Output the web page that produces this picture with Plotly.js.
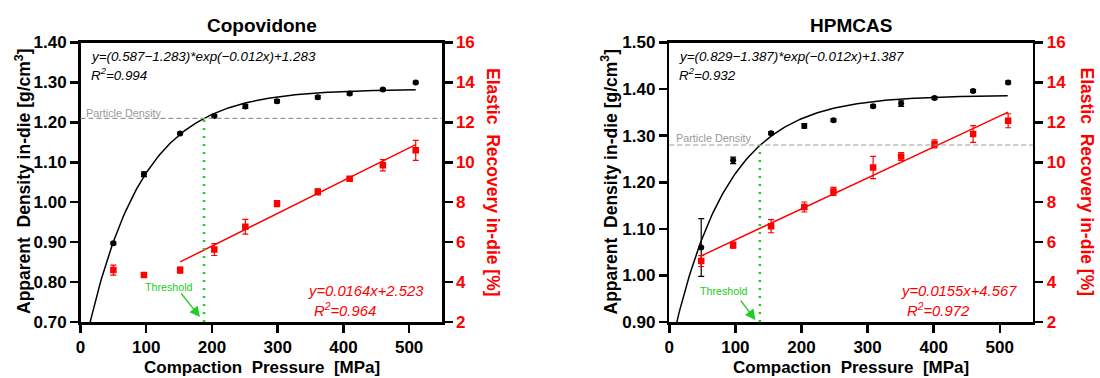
<!DOCTYPE html>
<html>
<head>
<meta charset="utf-8">
<script src="https://cdn.plot.ly/plotly-3.0.1.min.js"></script>
<style>html,body{margin:0;padding:0;background:#fff;}#chart{width:1100px;height:378px;}</style>
</head>
<body>
<div id="chart"></div>
<script>
// ---------- data ----------
const panelTitles = ["Copovidone", "HPMCAS"];
const xTickVals = [0, 100, 200, 300, 400, 500];

// Copovidone
const copPressure = [50, 96.5, 151.6, 203.6, 250.8, 299, 361, 409.5, 460, 510];
const copDensity = [0.897, 1.070, 1.172, 1.216, 1.240, 1.253, 1.263, 1.272, 1.282, 1.300];
const copDensityErr = [0.003, 0.006, 0.003, 0.003, 0.005, 0.004, 0.004, 0.003, 0.003, 0.003];
const copRecovery = [4.6, 4.35, 4.6, 5.63, 6.77, 7.93, 8.52, 9.18, 9.85, 10.6];
const copRecoveryErr = [0.25, 0.1, 0.15, 0.3, 0.37, 0.15, 0.15, 0.1, 0.28, 0.5];
const copExpFit = [0.587, 1.283, 0.012];   // y=(a-b)*exp(-k x)+b
const copLinFit = [0.0164, 2.523];         // y=m x + c
const copLinStartIdx = 2;
const copParticleDensity = 1.21;
const copThreshold = 188;
const copDensityRange = [0.70, 1.40];

// HPMCAS
const hpPressure = [48.3, 96.6, 154, 204.3, 248.4, 308.4, 350.8, 401.3, 459.7, 512.7];
const hpDensity = [1.060, 1.247, 1.305, 1.321, 1.333, 1.363, 1.369, 1.381, 1.396, 1.414];
const hpDensityErr = [0.062, 0.007, 0.003, 0.005, 0.003, 0.003, 0.006, 0.003, 0.003, 0.003];
const hpRecovery = [5.05, 5.85, 6.8, 7.76, 8.54, 9.74, 10.29, 10.92, 11.42, 12.08];
const hpRecoveryErr = [0.27, 0.15, 0.33, 0.25, 0.2, 0.56, 0.2, 0.2, 0.42, 0.35];
const hpExpFit = [0.829, 1.387, 0.012];
const hpLinFit = [0.0155, 4.567];
const hpLinStartIdx = 0;
const hpParticleDensity = 1.28;
const hpThreshold = 137;
const hpDensityRange = [0.90, 1.50];

const recoveryRange = [2, 16];
const pressureRange = [0, 550];

// ---------- helpers ----------
const W = 1100, H = 378;
const px = x => x / W;
const py = y => 1 - y / H;
const FONT = "Liberation Sans, Arial, sans-serif";
const RED = "#ff0000";
const GREEN = "#22cc22";

function expCurve(p, xs) {
  const xEnd = xs[xs.length - 1];
  const xx = [], yy = [];
  for (let x = 0; x <= xEnd + 0.01; x += 2) { xx.push(x); yy.push((p[0] - p[1]) * Math.exp(-p[2] * x) + p[1]); }
  return {x: xx, y: yy};
}
function linCurve(p, xs, startIdx) {
  const xx = [xs[startIdx], xs[xs.length - 1]];
  return {x: xx, y: xx.map(x => p[0] * x + p[1])};
}

function panelTraces(xa, yaL, yaR, P, D, DE, R, RE, ef, lf, li) {
  const c = expCurve(ef, P), l = linCurve(lf, P, li);
  return [
    {x: c.x, y: c.y, xaxis: xa, yaxis: yaL, mode: "lines", line: {color: "#000", width: 1.5}, hoverinfo: "skip"},
    {x: P, y: D, xaxis: xa, yaxis: yaL, mode: "markers", marker: {color: "#000", size: 6, symbol: "circle"},
      error_y: {type: "data", array: DE, visible: true, color: "#000", thickness: 1.2, width: 3}},
    {x: l.x, y: l.y, xaxis: xa, yaxis: yaR, mode: "lines", line: {color: RED, width: 1.5}, hoverinfo: "skip"},
    {x: P, y: R, xaxis: xa, yaxis: yaR, mode: "markers", marker: {color: RED, size: 6.5, symbol: "square"},
      error_y: {type: "data", array: RE, visible: true, color: RED, thickness: 1.2, width: 3}}
  ];
}

const data = [].concat(
  panelTraces("x", "y", "y2", copPressure, copDensity, copDensityErr, copRecovery, copRecoveryErr, copExpFit, copLinFit, copLinStartIdx),
  panelTraces("x2", "y3", "y4", hpPressure, hpDensity, hpDensityErr, hpRecovery, hpRecoveryErr, hpExpFit, hpLinFit, hpLinStartIdx)
);

const tickFont = {family: FONT, size: 17, color: "#000", weight: "bold"};
const axCommon = {showgrid: false, zeroline: false, showline: true, linecolor: "#000", linewidth: 2.5,
  ticks: "outside", ticklen: 8, tickwidth: 2.5, tickcolor: "#000"};
function xAx(domain, anchor) {
  return Object.assign({domain: domain, anchor: anchor, range: pressureRange, tickvals: xTickVals, mirror: true, tickfont: tickFont}, axCommon);
}
function yAxL(range, anchor) {
  return Object.assign({domain: [py(322), py(42.5)], anchor: anchor, range: range, dtick: 0.1, tickformat: ".2f", tickfont: tickFont}, axCommon);
}
function yAxR(overlay, anchor) {
  return Object.assign({overlaying: overlay, anchor: anchor, side: "right", range: recoveryRange, dtick: 2,
    tickfont: {family: FONT, size: 17, color: RED, weight: "bold"}}, axCommon);
}

function txt(text, x, y, opts) {
  return Object.assign({text: text, x: px(x), y: py(y), xref: "paper", yref: "paper", showarrow: false,
    xanchor: "center", yanchor: "middle", font: {family: FONT, size: 12, color: "#000"}}, opts || {});
}

function panelAnnotations(o) {
  const a = [];
  a.push(txt(o.title, o.cx, 25, {font: {family: FONT, size: 19, color: "#000", weight: "bold"}}));
  a.push(txt(o.eq1, o.eqx, 56, {xanchor: "left", font: {family: FONT, size: 13.4, color: "#000", style: "italic"}}));
  a.push(txt(o.r1, o.eqx, 75, {xanchor: "left", font: {family: FONT, size: 13.4, color: "#000", style: "italic"}}));
  a.push(txt(o.eq2, o.eq2x, 291, {xanchor: "right", font: {family: FONT, size: 14.8, color: RED, style: "italic"}}));
  a.push(txt(o.r2, o.r2x, 310, {xanchor: "left", font: {family: FONT, size: 14.8, color: RED, style: "italic"}}));
  a.push(txt("Particle Density", o.pdx, o.pdy, {xanchor: "left", font: {family: FONT, size: 10.8, color: "#999"}}));
  a.push(txt("Threshold", o.thx, o.thy, {font: {family: FONT, size: 10.7, color: GREEN}}));
  a.push({text: "", x: px(o.ahx), y: py(o.ahy), xref: "paper", yref: "paper", showarrow: true,
    ax: o.atx - o.ahx, ay: o.aty - o.ahy, axref: "pixel", ayref: "pixel",
    arrowhead: 2, arrowsize: 1.6, arrowwidth: 1.3, arrowcolor: GREEN});
  a.push(txt("Apparent\u00a0 Density in-die [g/cm<sup>3</sup>]", o.ylx, 182, {textangle: -90, font: {family: FONT, size: 17.5, color: "#000", weight: "bold"}}));
  a.push(txt("Elastic\u00a0 Recovery in-die [%]", o.yrx, 182, {textangle: 90, font: {family: FONT, size: 17.5, color: RED, weight: "bold"}}));
  a.push(txt("Compaction\u00a0 Pressure\u00a0 [MPa]", o.cx, 367, {font: {family: FONT, size: 17, color: "#000", weight: "bold"}}));
  return a;
}

const annotations = [].concat(
  panelAnnotations({title: panelTitles[0], cx: 261.5, eqx: 88.5,
    eq1: "y=(0.587\u22121.283)*exp(\u22120.012x)+1.283", r1: "R<sup>2</sup>=0.994",
    eq2: "y=0.0164x+2.523", eq2x: 426, r2: "R<sup>2</sup>=0.964", r2x: 311.5,
    pdx: 84, pdy: 113, thx: 168.5, thy: 287, atx: 180, aty: 292, ahx: 200, ahy: 317, ylx: 23, yrx: 493}),
  panelAnnotations({title: panelTitles[1], cx: 851, eqx: 677,
    eq1: "y=(0.829\u22121.387)*exp(\u22120.012x)+1.387", r1: "R<sup>2</sup>=0.932",
    eq2: "y=0.0155x+4.567", eq2x: 1018.5, r2: "R<sup>2</sup>=0.972", r2x: 904.5,
    pdx: 673.5, pdy: 138, thx: 724, thy: 291, atx: 739.5, aty: 299, ahx: 755.5, ahy: 320, ylx: 609.5, yrx: 1086.5})
);

function shapesFor(xa, ya, pd, th, yr) {
  return [
    {type: "line", xref: xa + " domain", yref: ya, x0: 0, x1: 1, y0: pd, y1: pd, line: {color: "#999", width: 1.2, dash: "5px,3px"}},
    {type: "line", xref: xa, yref: ya, x0: th, x1: th, y0: yr[0], y1: pd, line: {color: GREEN, width: 2.5, dash: "2px,6px"}}
  ];
}

const layout = {
  width: W, height: H, margin: {l: 0, r: 0, t: 0, b: 0}, paper_bgcolor: "#fff", plot_bgcolor: "#fff",
  showlegend: false, font: {family: FONT},
  xaxis: xAx([px(80.5), px(442)], "y"),
  yaxis: yAxL(copDensityRange, "x"),
  yaxis2: yAxR("y", "x"),
  xaxis2: xAx([px(669.3), px(1032.8)], "y3"),
  yaxis3: yAxL(hpDensityRange, "x2"),
  yaxis4: yAxR("y3", "x2"),
  shapes: [].concat(shapesFor("x", "y", copParticleDensity, copThreshold, copDensityRange),
                    shapesFor("x2", "y3", hpParticleDensity, hpThreshold, hpDensityRange)),
  annotations: annotations
};

Plotly.newPlot("chart", data, layout, {displayModeBar: false, staticPlot: true});
</script>
</body>
</html>
